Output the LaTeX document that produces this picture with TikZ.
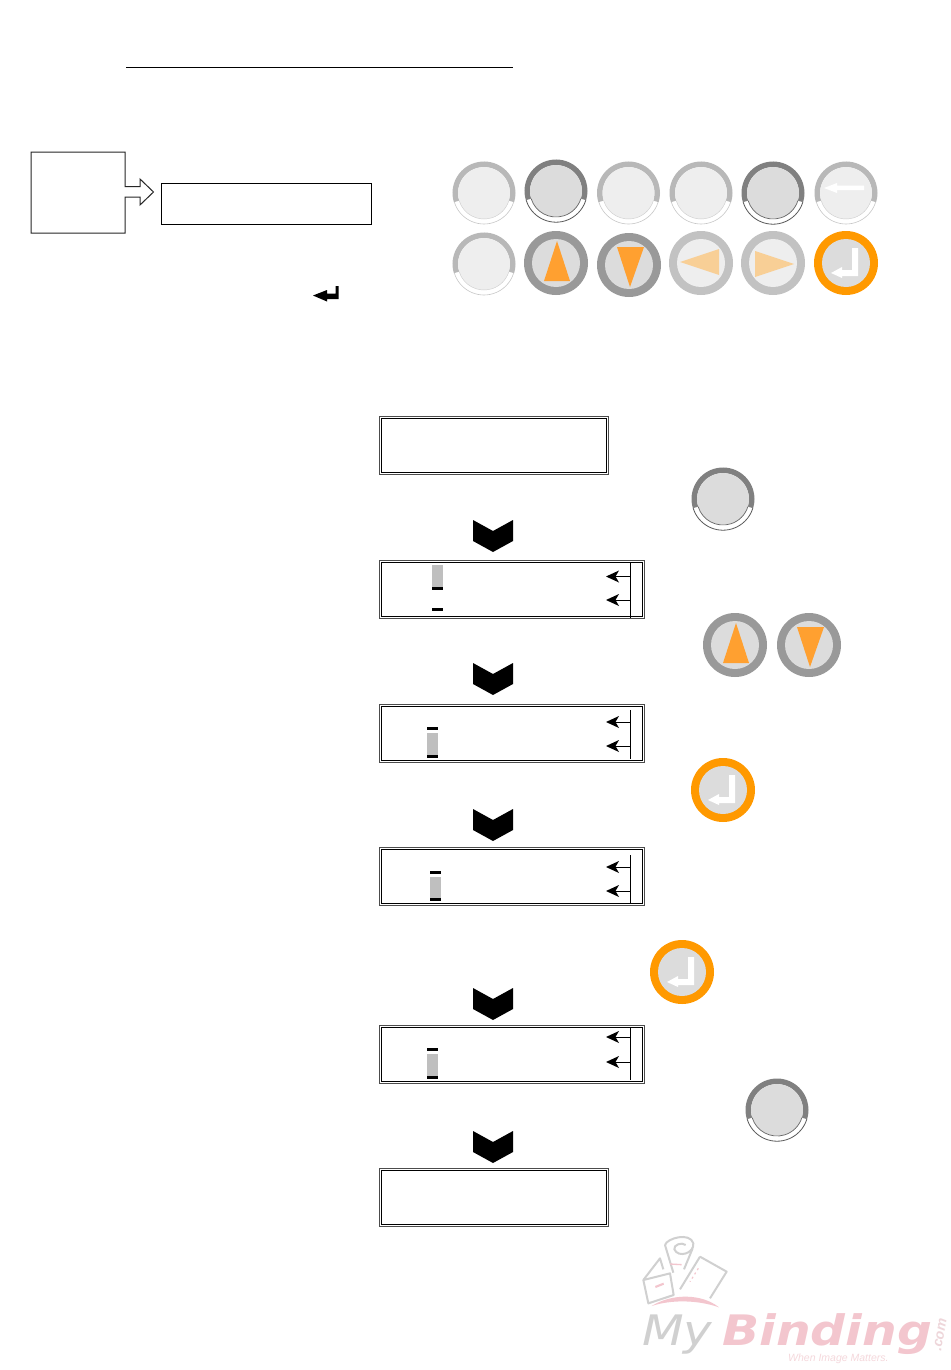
\documentclass[tikz,border=0pt]{standalone}
\usepackage{fontspec}
\setmainfont{Liberation Sans}
\newfontfamily\logofont{DejaVu Sans}
\definecolor{bandlight}{HTML}{B8B8B8}
\definecolor{disclight}{HTML}{EEEEEE}
\definecolor{banddark}{HTML}{808080}
\definecolor{discdark}{HTML}{DCDCDC}
\definecolor{ringgray}{HTML}{999999}
\definecolor{ringpale}{HTML}{C2C2C2}
\definecolor{orangeb}{HTML}{FF9900}
\definecolor{oranget}{HTML}{FFA030}
\definecolor{paleorange}{HTML}{F8CF96}
\definecolor{logogray}{HTML}{D0D0D0}
\definecolor{logopink}{HTML}{F3C6CE}
\definecolor{logopale}{HTML}{F5D8DC}
\tikzset{
  screenbox/.style={draw=black!70,line width=1.1pt,fill=white},
  screeninner/.style={draw=black,line width=0.9pt},
  plainbox/.style={draw=black,line width=1pt,fill=white},
  logoline/.style={draw=logogray,line width=2pt,line join=round},
  markbar/.style={fill=black},
  markgray/.style={fill=black!25},
  ptr/.style={draw=black,line width=0.9pt},
}
% annular band, upper part
\newcommand{\bandarc}[1]{\fill[#1] (197:31.5) arc[start angle=197,end angle=-17,radius=31.5] -- (-17:26) arc[start angle=-17,end angle=197,radius=26] -- cycle;}
\newcommand{\btnlight}[3][]{\begin{scope}[shift={(#2,#3)},x=1pt,y=1pt]
  \bandarc{bandlight}
  \draw[black!22,line width=0.6pt] (197:31) arc[start angle=197,end angle=343,radius=31];
  \fill[disclight] (0,0) circle[radius=26pt];
  \draw[black!20,line width=0.4pt] (197:26) arc[start angle=197,end angle=343,radius=26];
  #1
\end{scope}}
\newcommand{\btndark}[2]{\begin{scope}[shift={(#1,#2)},x=1pt,y=1pt]
  \bandarc{banddark}
  \draw[black!65,line width=0.8pt] (197:31.2) arc[start angle=197,end angle=343,radius=31.2];
  \fill[discdark] (0,0) circle[radius=26pt];
  \draw[black!60,line width=0.7pt] (197:26) arc[start angle=197,end angle=343,radius=26];
\end{scope}}
\newcommand{\btnring}[5]{\begin{scope}[shift={(#1,#2)},x=1pt,y=1pt]
  \fill[#3] (0,0) circle[radius=32pt];
  \fill[#4] (0,0) circle[radius=24pt];
  #5
\end{scope}}
\newcommand{\enterglyph}{\fill[white] (6,15)--(12,15)--(12,-13)--(-4,-13)--(-4,-15)--(-15,-10)--(-4,-4)--(-4,-7)--(6,-7)--cycle;}
\newcommand{\btnup}[2]{\btnring{#1}{#2}{ringgray}{discdark}{\fill[oranget] (1,22)--(14,-18)--(-12,-18)--cycle;}}
\newcommand{\btndown}[2]{\btnring{#1}{#2}{ringgray}{discdark}{\fill[oranget] (-12,18)--(15,18)--(1,-22)--cycle;}}
\newcommand{\btnenter}[2]{\btnring{#1}{#2}{orangeb}{discdark}{\enterglyph}}
\newcommand{\chev}[1]{\fill[black] (473,#1) -- (493,#1+11) -- (513,#1) -- (513,#1+21) -- (493,#1+32) -- (473,#1+21) -- cycle;}
\newcommand{\screen}[5]{\node[screenbox,anchor=north west,inner sep=0pt,minimum width=#4pt-1pt,minimum height=#5pt-1pt] (#1) at (#2,#3) {};
  \draw[screeninner] ([xshift=2.6pt,yshift=-2.6pt]#1.north west) rectangle ([xshift=-2.6pt,yshift=2.6pt]#1.south east);}
\newcommand{\ptrhead}[1]{\draw[ptr] (630,#1) -- (615,#1); \fill[black] (606,#1) -- (619,#1-6) -- (615.5,#1) -- (619,#1+6) -- cycle;}
\newcommand{\ptrs}[4]{% ytop ybot yA yB
  \draw[ptr] (630,#1) -- (630,#2);
  \ptrhead{#3}\ptrhead{#4}}
\newcommand{\cursor}[4]{% x bar1-top gray-top gray-bot
  \fill[markbar] (#1,#2) rectangle (#1+11,#2+3);
  \fill[markgray] (#1,#3) rectangle (#1+11,#4);
  \fill[markbar] (#1,#4) rectangle (#1+11,#4+3);}
\begin{document}
\begin{tikzpicture}[x=1pt,y=-1pt]
\useasboundingbox[fill=white] (0,0) rectangle (950,1370);
% title rule
\coordinate (ruleA) at (126,68);
\coordinate (ruleB) at (513,68);
\draw[black,line width=1pt] (ruleA) -- (ruleB);
% callout
\draw[plainbox,draw=black!85,line join=miter] (31,152) -- (125,152) -- (125,186.5) -- (140,186.5) -- (140,179) -- (153.5,192) -- (140,205) -- (140,197) -- (125,197) -- (125,233) -- (31,233) -- cycle;
\node[plainbox,anchor=north west,inner sep=0pt,minimum width=210pt,minimum height=41pt] (noteBox) at (161,183.3) {};
% return glyph
\fill[black] (313,295.5) -- (327,290) -- (327,293.5) -- (335.5,293.5) -- (335.5,286) -- (338.5,286) -- (338.5,299) -- (327,299) -- (327,301.5) -- cycle;
% keypad
\btnlight{484}{193}
\btndark{556}{191}
\btnlight{628.5}{193}
\btnlight{701}{193}
\btndark{773}{193}
\btnlight[{\fill[white] (-22,5)--(-9,10)--(-9,7.5)--(18,7.5)--(18,3)--(-9,3)--(-9,0)--cycle;}]{846}{193}
\btnlight{484}{264}
\btnup{556}{263}
\btndown{629}{265}
\btnring{701}{263}{ringpale}{disclight}{\fill[paleorange] (-21,1)--(18,14)--(18,-12)--cycle;}
\btnring{773}{263}{ringpale}{disclight}{\fill[paleorange] (-18,12)--(-18,-14)--(21,-1)--cycle;}
\btnenter{846}{263}
% screens
\screen{s1}{379}{416}{230}{59}
\screen{s2}{379}{560}{266}{59}
\screen{s3}{379}{704}{266}{59}
\screen{s4}{379}{847}{266}{59}
\screen{s5}{379}{1025}{266}{59}
\screen{s6}{379}{1168}{230}{59}
% screen 2 content
\fill[markgray] (432,565) rectangle (443,587);
\fill[markbar] (432,587) rectangle (443,590);
\fill[markbar] (432,608) rectangle (443,610.5);
\ptrs{563}{618}{576.5}{600}
% screen 3
\cursor{427}{727}{733}{755}
\ptrs{710}{759}{722}{746}
% screen 4
\cursor{430}{871}{877}{898}
\ptrs{855}{904}{867}{891}
% screen 5
\cursor{427}{1048}{1054}{1076}
\ptrs{1028}{1080}{1037}{1062}
% chevrons
\chev{520}\chev{663}\chev{809}\chev{988}\chev{1131}
% side buttons
\btndark{723}{499}
\btnup{735}{645}
\btndown{809}{645}
\btnenter{723}{790}
\btnenter{682}{972}
\btndark{777}{1110}
% logo
\begin{scope}[shift={(635,1230)},x=0.3333pt,y=-0.3333pt]
  \draw[logoline] (25,150) -- (105,130) -- (116,195) -- (40,220) -- cycle;
  \draw[logoline] (25,150) -- (75,85) -- (85,118);
  \draw[logoline] (90,45) -- (115,128);
  \draw[logoline] (90,45) .. controls (95,25) and (165,5) .. (175,40) .. controls (178,70) and (130,85) .. (118,58) .. controls (115,45) and (140,35) .. (152,45);
  \draw[logoline] (173,55) -- (147,118);
  \draw[logoline] (195,80) -- (275,125) -- (225,205);
  \draw[logoline] (195,80) -- (135,178);
  \draw[logopink,line width=1.2pt,dash pattern=on 2pt off 3pt] (190,115) -- (165,155);
  \fill[logopink] (60,168) -- (85,158) -- (87,164) -- (62,174) -- cycle;
  \fill[logopink] (105,100) -- (140,102) -- (140,106) -- (105,104) -- cycle;
  \fill[logopink] (50,228) .. controls (110,190) and (200,190) .. (252,232) .. controls (190,210) and (110,208) .. (50,228) -- cycle;
\end{scope}
\node[anchor=base west,inner sep=0pt,text=logogray,xscale=1.15] (logoMy) at (642,1345) {\fontsize{42pt}{42pt}\logofont\itshape My};
\node[anchor=base west,inner sep=0pt,text=logopink,xscale=1.16] (logoBinding) at (722,1345) {\fontsize{42pt}{42pt}\logofont\bfseries\itshape Binding};
\node[anchor=base west,inner sep=0pt,text=logopale!80!logogray,rotate=80] (logoCom) at (941,1352) {\fontsize{14pt}{14pt}\selectfont\bfseries\itshape .com};
\node[anchor=base west,inner sep=0pt,text=logopale] (logoTag) at (788,1361) {\fontsize{10.5pt}{10.5pt}\selectfont\itshape When Image Matters.};
\end{tikzpicture}
\end{document}
